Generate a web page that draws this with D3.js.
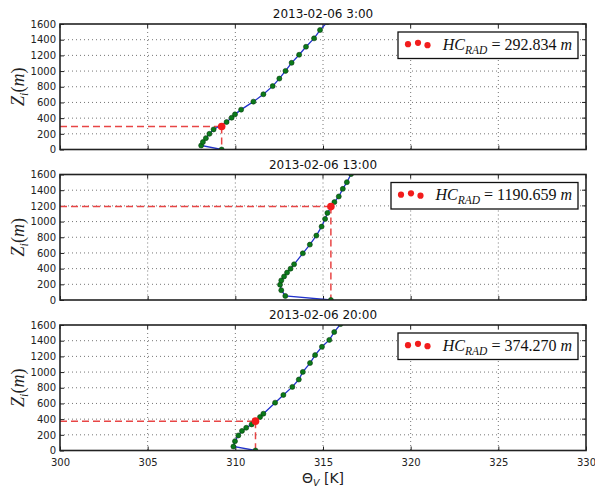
<!DOCTYPE html>
<html>
<head>
<meta charset="utf-8">
<script src="https://cdn.jsdelivr.net/npm/d3@7"></script>
<style>
  body { margin: 0; background: #fff; }
  .tick text { font-family: "DejaVu Sans", sans-serif; font-size: 10px; fill: #222; }
  .title { font-family: "DejaVu Sans", sans-serif; font-size: 12px; fill: #111; }
</style>
</head>
<body>
<div id="chart-area"></div>
<script>

// chart data
let titles = ["2013-02-06 3:00", "2013-02-06 13:00", "2013-02-06 20:00"];
let hcValues = [292.834, 1190.659, 374.270];
let hcLabels = ["292.834", "1190.659", "374.270"];
let hcTheta = [309.22, 315.45, 311.15];

// profiles: first point is the surface
let theta03 = [309.22, 308.05, 308.15, 308.32, 308.52, 308.76, 309.50, 309.79, 309.98, 310.33, 311.03, 311.60, 312.13, 312.51, 312.86, 313.21, 313.64, 314.03, 314.49, 314.83, 315.25];
let z03     = [0, 51, 95, 145, 200, 256, 350, 405, 448, 508, 610, 704, 808, 904, 1002, 1105, 1208, 1310, 1417, 1523, 1625];

let theta13 = [315.45, 312.85, 312.62, 312.55, 312.62, 312.78, 312.95, 313.15, 313.35, 313.85, 314.25, 314.62, 314.92, 315.12, 315.25, 315.65, 315.90, 316.13, 316.36, 316.60];
let z13     = [0, 52, 125, 195, 250, 300, 350, 400, 455, 595, 706, 821, 936, 1034, 1110, 1248, 1320, 1417, 1502, 1605];

let theta20 = [311.15, 309.89, 309.98, 310.17, 310.38, 310.62, 310.93, 311.41, 311.60, 312.27, 312.74, 313.25, 313.62, 313.85, 314.26, 314.55, 314.94, 315.36, 315.64, 316.00];
let z20     = [0, 51, 119, 192, 250, 290, 333, 427, 469, 610, 708, 811, 905, 1002, 1115, 1216, 1322, 1410, 1510, 1612];

let xTicks = [300, 305, 310, 315, 320, 325, 330];
let yTicks = [0, 200, 400, 600, 800, 1000, 1200, 1400, 1600];

let profiles = [
    {theta: theta03, z: z03},
    {theta: theta13, z: z13},
    {theta: theta20, z: z20}
];

// SVG drawing area
let totalWidth = 595, totalHeight = 487;
let plotLeft = 60, plotRight = 586;
let panelHeight = 125.5, panelStep = 150.5, firstTop = 24;

let svg = d3.select("#chart-area").append("svg")
    .attr("width", totalWidth)
    .attr("height", totalHeight)
    .style("background", "#fff");

let x = d3.scaleLinear().domain([300, 330]).range([plotLeft, plotRight]);
let y = d3.scaleLinear().domain([0, 1600]).range([panelHeight, 0]);

let redDash = "#e84545";

profiles.forEach((p, i) => {
    let top = firstTop + i * panelStep;
    let g = svg.append("g").attr("transform", "translate(0," + top + ")");

    g.append("clipPath").attr("id", "clip" + i)
        .append("rect")
        .attr("x", plotLeft).attr("y", 0)
        .attr("width", plotRight - plotLeft).attr("height", panelHeight);

    // grid
    g.selectAll(".hgrid").data(yTicks.slice(1, -1)).enter().append("line")
        .attr("x1", plotLeft).attr("x2", plotRight)
        .attr("y1", d => y(d)).attr("y2", d => y(d))
        .attr("stroke", "#666").attr("stroke-width", 0.9)
        .attr("stroke-dasharray", "1,3");
    g.selectAll(".vgrid").data(xTicks.slice(1, -1)).enter().append("line")
        .attr("x1", d => x(d)).attr("x2", d => x(d))
        .attr("y1", 0).attr("y2", panelHeight)
        .attr("stroke", "#666").attr("stroke-width", 0.9)
        .attr("stroke-dasharray", "1,3");

    // y axis
    let yAxis = d3.axisLeft(y).tickValues(yTicks).tickFormat(d3.format("d"))
        .tickSize(-4).tickPadding(4);
    let ya = g.append("g").attr("transform", "translate(" + plotLeft + ",0)").call(yAxis);
    ya.select(".domain").remove();
    ya.selectAll(".tick line").attr("stroke", "#222");
    // right side ticks
    g.selectAll(".rtick").data(yTicks).enter().append("line")
        .attr("x1", plotRight).attr("x2", plotRight - 4)
        .attr("y1", d => y(d)).attr("y2", d => y(d))
        .attr("stroke", "#222");

    // x ticks (top and bottom), labels only on last panel
    let xAxis = d3.axisBottom(x).tickValues(xTicks).tickSize(-4).tickPadding(8);
    if (i < profiles.length - 1) xAxis.tickFormat("");
    let xa = g.append("g").attr("transform", "translate(0," + panelHeight + ")").call(xAxis);
    xa.select(".domain").remove();
    xa.selectAll(".tick line").attr("stroke", "#222");
    g.selectAll(".ttick").data(xTicks).enter().append("line")
        .attr("x1", d => x(d)).attr("x2", d => x(d))
        .attr("y1", 0).attr("y2", 4)
        .attr("stroke", "#222");

    // red dashed guides to HC
    let hx = x(hcTheta[i]), hy = y(hcValues[i]);
    g.append("line")
        .attr("x1", plotLeft).attr("x2", hx)
        .attr("y1", hy).attr("y2", hy)
        .attr("stroke", redDash).attr("stroke-width", 1.5)
        .attr("stroke-dasharray", "7,4");
    g.append("line")
        .attr("x1", hx).attr("x2", hx)
        .attr("y1", hy).attr("y2", y(0))
        .attr("stroke", redDash).attr("stroke-width", 1.5)
        .attr("stroke-dasharray", "7,4");

    // profile line + markers
    let pts = p.theta.map((t, k) => [t, p.z[k]]);
    let line = d3.line()
        .x(d => x(d[0]))
        .y(d => y(d[1]))
        .curve(d3.curveLinear);

    let pg = g.append("g").attr("clip-path", "url(#clip" + i + ")");
    pg.append("path")
        .attr("d", line(pts))
        .attr("fill", "none")
        .attr("stroke", "#2233cc")
        .attr("stroke-width", 1.3);
    pg.selectAll(".dot").data(pts).enter().append("circle")
        .attr("cx", d => x(d[0]))
        .attr("cy", d => y(d[1]))
        .attr("r", 2.5)
        .attr("fill", "#0a7a1a")
        .attr("stroke", "#0b3d12")
        .attr("stroke-width", 0.6);
    pg.append("circle")
        .attr("cx", hx).attr("cy", hy).attr("r", 3.8)
        .attr("fill", "#f21c1c");

    // frame
    g.append("rect")
        .attr("x", plotLeft).attr("y", 0)
        .attr("width", plotRight - plotLeft).attr("height", panelHeight)
        .attr("fill", "none").attr("stroke", "#222").attr("stroke-width", 1.6);

    // title
    g.append("text").attr("class", "title")
        .attr("x", (plotLeft + plotRight) / 2).attr("y", -6)
        .attr("text-anchor", "middle")
        .text(titles[i]);

    // legend
    let lg = g.append("g").attr("transform", "translate(0,8)");
    let legRight = 578, legWidth = hcLabels[i].length > 7 ? 187 : 180;
    lg.append("rect")
        .attr("x", legRight - legWidth).attr("y", 0)
        .attr("width", legWidth).attr("height", 26.5)
        .attr("fill", "#fff").attr("stroke", "#111").attr("stroke-width", 1.3);
    let dotOff = [[10, 12.2], [20, 10.8], [29.5, 13.2]];
    lg.selectAll(".ldot").data(dotOff).enter().append("circle")
        .attr("cx", d => legRight - legWidth + d[0])
        .attr("cy", d => d[1])
        .attr("r", 3.1)
        .attr("fill", "#f21c1c");
    let lt = lg.append("text")
        .attr("x", legRight - 6).attr("y", 17.5)
        .attr("text-anchor", "end")
        .style("font-family", "'Liberation Serif', 'DejaVu Serif', serif")
        .style("font-size", "16px")
        .attr("fill", "#111");
    lt.append("tspan").style("font-style", "italic").text("HC");
    lt.append("tspan").style("font-style", "italic").style("font-size", "11.5px")
        .attr("dy", 4).text("RAD");
    lt.append("tspan").attr("dy", -4).text(" = " + hcLabels[i] + " ");
    lt.append("tspan").style("font-style", "italic").text("m");

    // y label
    let yl = g.append("text")
        .attr("transform", "translate(24," + (panelHeight / 2) + ") rotate(-90)")
        .attr("text-anchor", "middle")
        .style("font-family", "'Liberation Serif', 'DejaVu Serif', serif")
        .style("font-size", "18px")
        .attr("fill", "#222");
    yl.append("tspan").style("font-style", "italic").text("Z");
    yl.append("tspan").style("font-style", "italic").style("font-size", "12px")
        .attr("dy", 4).text("i");
    yl.append("tspan").attr("dy", -4).text("(");
    yl.append("tspan").style("font-style", "italic").text("m");
    yl.append("tspan").text(")");
});

// x label
let xl = svg.append("text")
    .attr("x", (plotLeft + plotRight) / 2).attr("y", 483)
    .attr("text-anchor", "middle")
    .style("font-family", "'DejaVu Sans', sans-serif")
    .style("font-size", "14px")
    .attr("fill", "#222");
xl.append("tspan").text("Θ");
xl.append("tspan").style("font-style", "italic").style("font-size", "9.5px")
    .attr("dy", 3).text("V");
xl.append("tspan").attr("dy", -3).text(" [K]");

</script>
</body>
</html>
